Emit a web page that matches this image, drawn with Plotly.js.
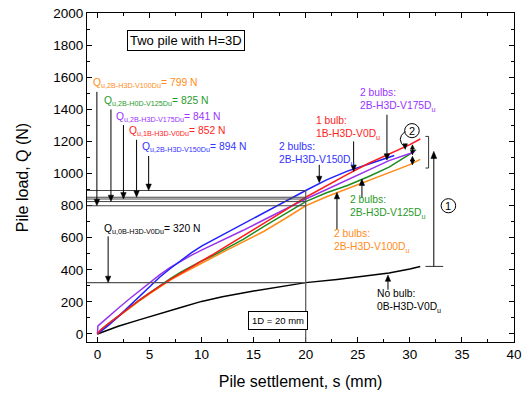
<!DOCTYPE html>
<html>
<head>
<meta charset="utf-8">
<script src="https://cdn.plot.ly/plotly-3.0.1.min.js"></script>
<style>html,body{margin:0;padding:0;background:#fff;}#chart{width:524px;height:393px;}</style>
</head>
<body>
<div id="chart"></div>
<script>
// ---- data ----
var sBlack = [0,1,2,4,6,8,10,12,15,18,20,23,26,28,30,31];
var qBlack = [0,25,48,88,128,165,203,232,268,300,320,340,362,380,405,420];

var sBlue = [0,1,2,3,4,5,6,7,8,9,10,12,14,16,18,20,22,24,26,28,28.5];
var qBlue = [0,50,108,170,235,298,355,408,458,505,548,618,688,758,826,894,960,1015,1058,1100,1112];

var sRed = [0,0.3,1,2,3,4,5,6,7,8,9,10,11,12,14,16,18,20,22,24,26,28,30,31];
var qRed = [0,25,62,112,162,210,255,300,340,378,415,453,492,532,610,690,770,852,925,995,1062,1120,1180,1215];

var sGreen = [0,0.3,1,2,3,4,5,6,7,8,9,10,11,12,14,16,18,20,22,24,26,28,30,30.6];
var qGreen = [0,25,62,112,162,210,256,302,345,385,422,455,485,520,590,670,748,825,880,925,980,1040,1120,1148];

var sOrange = [0,0.3,1,2,3,4,5,6,7,8,9,10,11,12,14,16,18,20,22,24,26,28,30,31];
var qOrange = [0,20,58,108,158,205,250,295,335,372,408,443,475,508,575,640,718,799,855,905,955,1005,1055,1088];

var sPurple = [0,0.05,0.5,1,2,3,4,5,6,7,8,9,10,12,14,16,18,20,22,24,26,28,30,30.5];
var qPurple = [0,50,75,105,160,215,268,320,370,415,455,490,522,582,646,712,778,841,900,960,1020,1080,1125,1138];

var quNames = ["2B-H3D-V100D", "2B-H0D-V125D", "2B-H3D-V175D", "1B-H3D-V0D", "2B-H3D-V150D"];
var quValues = [799, 825, 841, 852, 894];
var quNoBulb = 320;
var settlement1D = 20;

var xTicks = [0,5,10,15,20,25,30,35,40];
var yTicks = [0,200,400,600,800,1000,1200,1400,1600,1800,2000];

// ---- styles ----
var cBlue = '#1f1fff', cRed = '#ff1a1a', cGreen = '#1e8c1e', cOrange = '#ff8c1a', cPurple = '#9933ee', cBlack = '#000000';
var tBlue = '#3333ff', tRed = '#ff2222', tGreen = '#2a9a2a', tOrange = '#ff8c1a', tPurple = '#9933ff';
var FONT = 'Arial, "Liberation Sans", sans-serif';

function tr(x, y, c) {
  return {x: x, y: y, type: 'scatter', mode: 'lines', line: {color: c, width: 1.5}, hoverinfo: 'skip', showlegend: false};
}
var traces = [
  tr(sBlack, qBlack, cBlack),
  tr(sOrange, qOrange, cOrange),
  tr(sGreen, qGreen, cGreen),
  tr(sPurple, qPurple, cPurple),
  tr(sBlue, qBlue, cBlue),
  tr(sRed, qRed, cRed)
];

var shapes = [];
var lineCol = '#444';
quValues.forEach(function(q){
  shapes.push({type:'line', xref:'x', yref:'y', x0:-1, x1:settlement1D, y0:q, y1:q, line:{color:lineCol, width:1}});
});
shapes.push({type:'line', xref:'x', yref:'y', x0:-1, x1:settlement1D, y0:quNoBulb, y1:quNoBulb, line:{color:'#555', width:1.2}});
shapes.push({type:'line', xref:'x', yref:'y', x0:settlement1D, x1:settlement1D, y0:-50, y1:quValues[4], line:{color:'#555', width:1.2}});
// bracket for (1)
shapes.push({type:'path', xref:'x', yref:'y', path:'M 31.5,1231 L 31.8,1231 L 31.8,1034 L 31.5,1034', line:{color:'#333', width:1}});
shapes.push({type:'line', xref:'x', yref:'y', x0:31.5, x1:33.2, y0:421, y1:421, line:{color:'#333', width:1}});
// circles
shapes.push({type:'circle', xref:'x', yref:'y', x0:33.0, x1:34.4, y0:755, y1:843, line:{color:'#000', width:1}});
shapes.push({type:'circle', xref:'x', yref:'y', x0:29.5, x1:30.9, y0:1223, y1:1311, line:{color:'#000', width:1}});
// curved arrow for (2)
shapes.push({type:'path', xref:'x', yref:'y', path:'M 29.55,1262 Q 28.6,1215 29.55,1160', line:{color:'#000', width:1}});

// vertical arrows: line + filled head
function head(x, y, d, w, h) {
  shapes.push({type:'path', xref:'x', yref:'y',
    path:'M ' + x + ',' + y + ' L ' + (x - w) + ',' + (y - d*h) + ' L ' + (x + w) + ',' + (y - d*h) + ' Z',
    fillcolor:'#000', line:{color:'#000', width:0.5}});
}
function varrow(x, y0, y1, both, w, h) {
  w = w || 0.26; h = h || 40;
  var d = y1 > y0 ? 1 : -1;
  shapes.push({type:'line', xref:'x', yref:'y', x0:x, x1:x, y0:y0, y1:y1 - d*h*0.5, line:{color:'#000', width:1}});
  head(x, y1, d, w, h);
  if (both) head(x, y0, -d, w, h);
}

var ann = [];
function label(x, y, txt, col, size, anchor) {
  ann.push({xref:'x', yref:'y', x:x, y:y, text:txt, showarrow:false, xanchor:anchor||'left', yanchor:'middle',
    align:'left', font:{family:FONT, size:size||10.5, color:col}});
}

// Qu labels (top-left)
var quCols = [tOrange, tGreen, tPurple, tRed, tBlue];
var quLabX = [-0.64, 0.48, 1.55, 2.84, 4.12];
var quLabY = [1559, 1449, 1352, 1260, 1159];
var quArrX = [-0.05, 1.3, 2.5, 3.76, 4.92];
for (var i = 0; i < quValues.length; i++) {
  label(quLabX[i], quLabY[i], 'Q<sub>u,' + quNames[i] + 'u</sub>= ' + quValues[i] + ' N', quCols[i], 10.3);
  varrow(quArrX[i], quLabY[i] - 50, quValues[i]);
}
label(0.48, 654, 'Q<sub>u,0B-H3D-V0Du</sub>= ' + quNoBulb + ' N', '#000', 10.3);
varrow(1.03, 608, quNoBulb);

// curve labels
label(25.0, 1453, '2 bulbs:<br>2B-H3D-V175D<sub>u</sub>', tPurple, 10.3);
varrow(27.8, 1366, 1083);
label(20.75, 1282, '1 bulb:<br>1B-H3D-V0D<sub>u</sub>', tRed, 10.3);
varrow(24.6, 1200, 1013);
label(17.2, 1120, '2 bulbs:<br>2B-H3D-V150D<sub>u</sub>', tBlue, 10.3);
varrow(21.3, 1054, 943);
label(24.1, 785, '2 bulbs:<br>2B-H3D-V125D<sub>u</sub>', tGreen, 10.3);
varrow(25.4, 847, 965);
label(22.5, 578, '2 bulbs:<br>2B-H3D-V100D<sub>u</sub>', tOrange, 10.3);
varrow(23.0, 650, 882);
label(26.7, 204, 'No bulb:<br>0B-H3D-V0D<sub>u</sub>', '#000', 10.3);
varrow(27.9, 276, 368);

// (1) arrow and (2) double arrows
varrow(32.3, 421, 1138, false, 0.28, 45);
varrow(30.25, 1117, 1179, true, 0.2, 28);
varrow(30.25, 1055, 1107, true, 0.2, 28);
head(29.55, 1150, -1, 0.22, 35);

// circle numbers
label(33.7, 799, '1', '#000', 11, 'center');
label(30.2, 1267, '2', '#000', 11, 'center');

// boxes
ann.push({xref:'x', yref:'y', x:8.53, y:1827, text:'Two pile with H=3D', showarrow:false, xanchor:'center', yanchor:'middle',
  font:{family:FONT, size:13, color:'#000'}, bordercolor:'#000', borderwidth:1, borderpad:2, bgcolor:'#fff'});
ann.push({xref:'x', yref:'y', x:17.3, y:81, text:'1D = 20 mm', showarrow:false, xanchor:'center', yanchor:'middle',
  font:{family:FONT, size:9.5, color:'#000'}, bordercolor:'#000', borderwidth:1, borderpad:3, bgcolor:'#fff'});

var axCommon = {showgrid:false, zeroline:false, showline:true, linecolor:'#000', linewidth:1, mirror:'allticks',
  ticks:'inside', ticklen:5, tickwidth:1, tickcolor:'#000', tickfont:{family:FONT, size:13.5, color:'#000'}};

var layout = {
  width:524, height:393,
  margin:{l:87, r:10, t:13, b:51},
  paper_bgcolor:'#fff', plot_bgcolor:'#fff',
  font:{family:FONT},
  xaxis: Object.assign({}, axCommon, {range:[-1,40], tickvals:xTicks, ticktext:xTicks.map(String),
    minor:{ticks:'inside', ticklen:3, tickwidth:1, tickcolor:'#000', dtick:2.5, tick0:0},
    title:{text:'Pile settlement, s (mm)', font:{family:FONT, size:16, color:'#000'}, standoff:14}}),
  yaxis: Object.assign({}, axCommon, {range:[-50,2000], tickvals:yTicks, ticktext:yTicks.map(String),
    minor:{ticks:'inside', ticklen:3, tickwidth:1, tickcolor:'#000', dtick:100, tick0:0},
    title:{text:'Pile load, Q (N)', font:{family:FONT, size:16, color:'#000'}, standoff:20}}),
  shapes: shapes,
  annotations: ann,
  showlegend:false
};

Plotly.newPlot('chart', traces, layout, {staticPlot:true, displayModeBar:false});
</script>
</body>
</html>
